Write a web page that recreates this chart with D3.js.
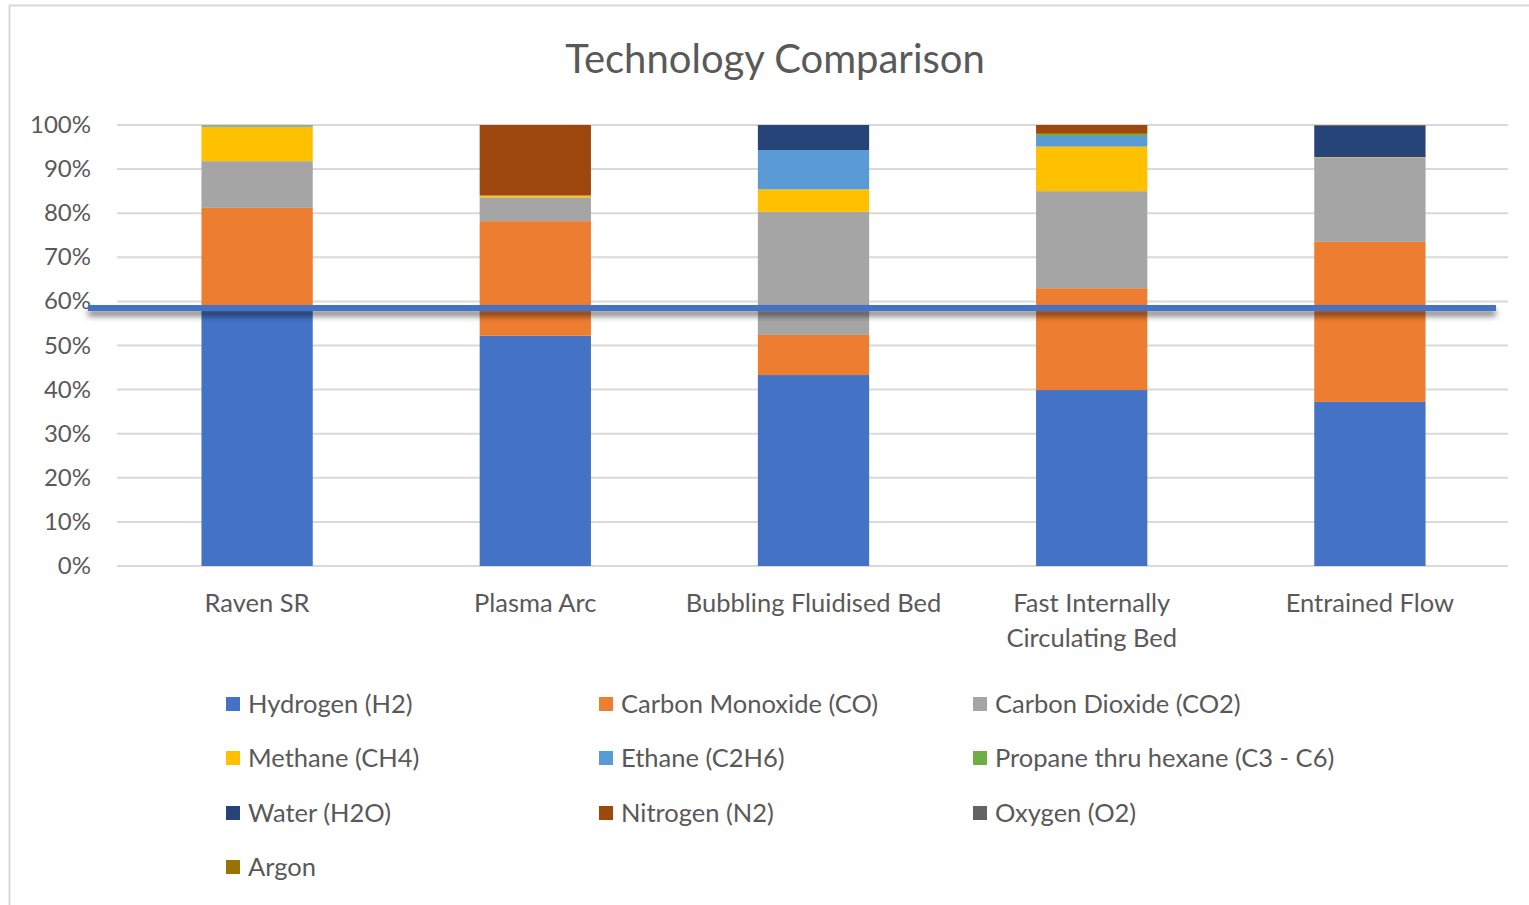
<!DOCTYPE html>
<html>
<head>
<meta charset="utf-8">
<script src="https://cdn.jsdelivr.net/npm/d3@7"></script>
<style>
	body { margin: 0; background: white; }
	text { font-family: Lato, "Open Sans", sans-serif; }
</style>
</head>
<body>
<div id="chart"></div>
<script>
	var categories = ["Raven SR", "Plasma Arc", "Bubbling Fluidised Bed", "Fast Internally Circulating Bed", "Entrained Flow"];
	var seriesNames = ["Hydrogen (H2)", "Carbon Monoxide (CO)", "Carbon Dioxide (CO2)", "Methane (CH4)", "Ethane (C2H6)",
		"Propane thru hexane (C3 - C6)", "Water (H2O)", "Nitrogen (N2)", "Oxygen (O2)", "Argon"];
	var colors = ["#4472C4", "#ED7D31", "#A5A5A5", "#FFC000", "#5B9BD5", "#70AD47", "#264478", "#9E480E", "#636363", "#997300"];

	// one array per gas, values in % for each technology
	var hydrogen = [59.0, 52.2, 43.3, 39.9, 37.2];
	var carbonMonoxide = [22.2, 26.0, 9.1, 23.1, 36.3];
	var carbonDioxide = [10.6, 5.4, 27.9, 22.0, 19.1];
	var methane = [7.8, 0.4, 5.1, 10.1, 0.1];
	var ethane = [0.3, 0, 8.9, 2.4, 0];
	var propane = [0.1, 0, 0, 0.5, 0];
	var water = [0, 0, 5.7, 0, 7.2];
	var nitrogen = [0, 16.0, 0, 2.0, 0.1];
	var oxygen = [0, 0, 0, 0, 0];
	var argon = [0, 0, 0, 0, 0];

	var yTicks = [0, 10, 20, 30, 40, 50, 60, 70, 80, 90, 100];
	var markerLevel = 58.5; // the blue line drawn over the chart

	var series = [hydrogen, carbonMonoxide, carbonDioxide, methane, ethane, propane, water, nitrogen, oxygen, argon];

	var width = 1529, height = 905;
	var svg = d3.select("#chart").append("svg")
		.attr("width", width)
		.attr("height", height);

	// chart frame
	svg.append("rect")
		.attr("x", 9.5).attr("y", 5.5)
		.attr("width", 1540).attr("height", 920)
		.style("fill", "white")
		.style("stroke", "#d9d9d9")
		.style("stroke-width", 2);

	svg.append("text")
		.attr("x", 775).attr("y", 73)
		.attr("text-anchor", "middle")
		.style("font-size", "40px")
		.style("fill", "#595959")
		.text("Technology Comparison");

	var x = d3.scaleBand().domain(categories).range([117, 1508]).paddingInner(0.6).paddingOuter(0.3);
	var y = d3.scaleLinear().domain([0, 100]).range([566, 125]);

	// gridlines
	svg.selectAll("line.grid")
		.data(yTicks)
		.enter()
		.append("line")
		.attr("class", "grid")
		.attr("x1", 117).attr("x2", 1508)
		.attr("y1", function(d){ return y(d); })
		.attr("y2", function(d){ return y(d); })
		.style("stroke", "#d9d9d9")
		.style("stroke-width", 2);

	svg.selectAll("text.ytick")
		.data(yTicks)
		.enter()
		.append("text")
		.attr("class", "ytick")
		.attr("x", 91)
		.attr("y", function(d){ return y(d) + 8; })
		.attr("text-anchor", "end")
		.style("font-size", "24px")
		.style("fill", "#595959")
		.text(function(d){ return d + "%"; });

	// stack the rows
	var rows = categories.map(function(c, i){
		var r = {cat: c};
		seriesNames.forEach(function(s, j){ r[s] = series[j][i]; });
		return r;
	});
	var stacked = d3.stack().keys(seriesNames)(rows);

	svg.selectAll("g.layer")
		.data(stacked)
		.enter()
		.append("g")
		.attr("class", "layer")
		.style("fill", function(d, i){ return colors[i]; })
		.selectAll("rect")
		.data(function(d){ return d; })
		.enter()
		.append("rect")
		.attr("x", function(d){ return x(d.data.cat) + 1; })
		.attr("width", x.bandwidth())
		.attr("y", function(d){ return y(d[1]); })
		.attr("height", function(d){ return y(d[0]) - y(d[1]); });

	// category labels
	var xl = svg.selectAll("text.xlab")
		.data(categories)
		.enter()
		.append("text")
		.attr("class", "xlab")
		.attr("text-anchor", "middle")
		.style("font-size", "25.5px")
		.style("fill", "#595959");
	xl.each(function(d){
		var cx = x(d) + x.bandwidth() / 2 + 1;
		var lines = d == "Fast Internally Circulating Bed" ? ["Fast Internally", "Circulating Bed"] : [d];
		var t = d3.select(this);
		lines.forEach(function(l, k){
			t.append("tspan").attr("x", cx).attr("y", 612 + k * 35).text(l);
		});
	});

	// the overlaid blue line with its shadow
	var defs = svg.append("defs");
	var f = defs.append("filter").attr("id", "shadow").attr("filterUnits", "userSpaceOnUse")
		.attr("x", 60).attr("y", 280).attr("width", 1469).attr("height", 60);
	f.append("feGaussianBlur").attr("in", "SourceAlpha").attr("stdDeviation", 3).attr("result", "b");
	f.append("feOffset").attr("in", "b").attr("dx", 0).attr("dy", 5).attr("result", "o");
	f.append("feComponentTransfer").attr("in", "o").attr("result", "s")
		.append("feFuncA").attr("type", "linear").attr("slope", 0.55);
	var m = f.append("feMerge");
	m.append("feMergeNode").attr("in", "s");
	m.append("feMergeNode").attr("in", "SourceGraphic");

	svg.append("rect")
		.attr("x", 88).attr("width", 1496 - 88)
		.attr("y", y(markerLevel) - 3).attr("height", 6)
		.style("fill", "#4472C4")
		.attr("filter", "url(#shadow)");

	// legend
	var legX = [226, 599, 973];
	var legY = [704, 758, 813, 867];
	var leg = svg.selectAll("g.leg")
		.data(seriesNames)
		.enter()
		.append("g")
		.attr("class", "leg")
		.attr("transform", function(d, i){ return "translate(" + legX[i % 3] + "," + legY[Math.floor(i / 3)] + ")"; });
	leg.append("rect")
		.attr("x", 0).attr("y", -7)
		.attr("width", 14).attr("height", 14)
		.style("fill", function(d, i){ return colors[i]; });
	leg.append("text")
		.attr("x", 22).attr("y", 9)
		.style("font-size", "25.5px")
		.style("fill", "#595959")
		.text(function(d){ return d; });
</script>
</body>
</html>
